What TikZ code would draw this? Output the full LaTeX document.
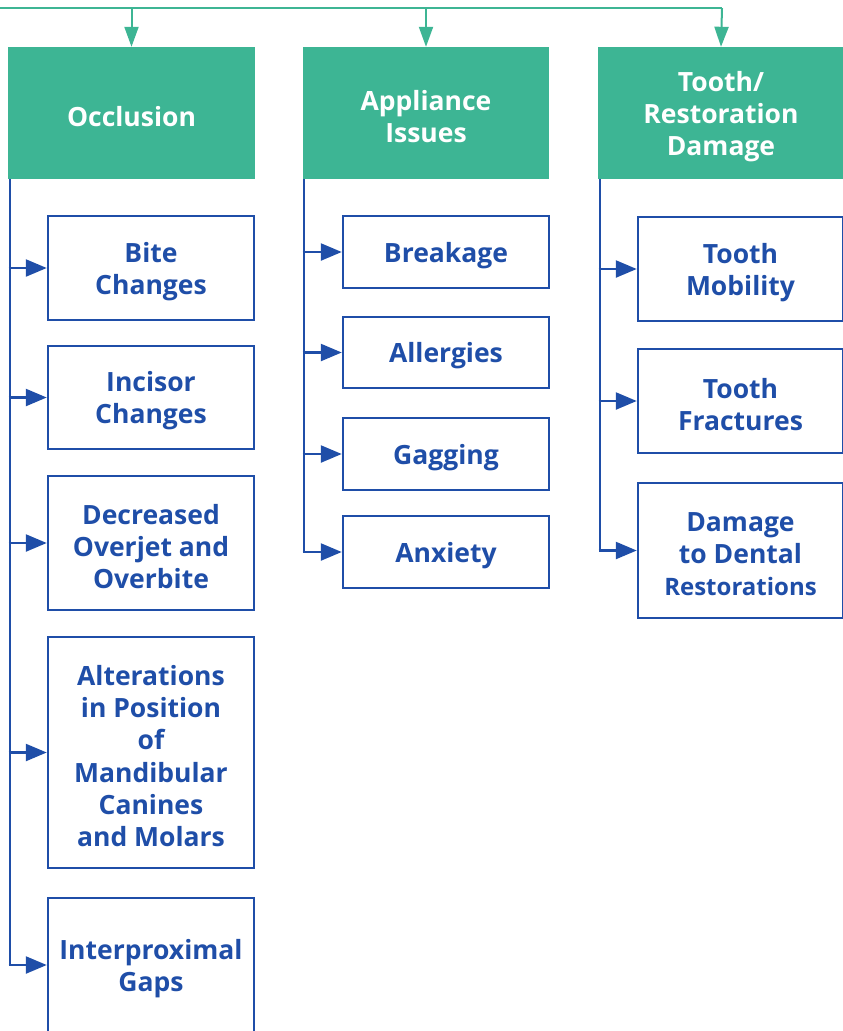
\documentclass[tikz,border=0pt]{standalone}
\usepackage{fontspec}
\setmainfont{Open Sans}[UprightFont=* Bold]
\usetikzlibrary{arrows.meta}
\definecolor{teal1}{HTML}{3DB594}
\definecolor{blue1}{HTML}{1F4EA8}
\tikzset{
  hdr/.style={fill=teal1,inner sep=0pt},
  hdrtext/.style={text=white,inner sep=0pt,align=center,font=\fontsize{26.5}{32}\selectfont},
  item/.style={draw=blue1,line width=2.5pt,fill=white,inner sep=0pt},
  itemtext/.style={text=blue1,inner sep=0pt,align=center,font=\fontsize{26.5}{32.2}\selectfont},
  tarr/.style={draw=teal1,line width=2pt,-{Triangle[length=20pt,width=14pt]}},
  barr/.style={draw=blue1,line width=2.5pt,-{Triangle[length=21pt,width=17pt]}}
}
% #1 name, #2 width, #3 height, #4 position, #5 text
\newcommand\hdrbox[5]{%
  \node[hdr,minimum width=#2,minimum height=#3] (#1) at #4 {};
  \node[hdrtext] (#1t) at ([yshift=-4pt]#1.center) {#5};}
\newcommand\itembox[6][]{%
  \node[item,minimum width=#3,minimum height=#4] (#2) at #5 {};
  \node[itemtext,#1] (#2t) at ([yshift=-3.5pt]#2.center) {#6};}
\begin{document}
\begin{tikzpicture}[x=1pt,y=-1pt]
\useasboundingbox (0,0) rectangle (843,1031);
\begin{scope}
\clip (0,0) rectangle (843,1031);
% headers
\hdrbox{occ}{247pt}{132pt}{(131.5,113)}{Occlusion}
\hdrbox{app}{246pt}{132pt}{(426,113)}{Appliance\\Issues}
\hdrbox{too}{246pt}{132pt}{(721,113)}{Tooth/\\Restoration\\Damage}
% top line
\coordinate (tl) at (0,8);
\coordinate (tr) at (722,8);
\draw[draw=teal1,line width=2pt] (tl) -- (tr);
\draw[tarr] (tl -| occ.north) -- (occ.north);
\draw[tarr] (tl -| app.north) -- (app.north);
\draw[tarr] (tr) -- (too.north);
% occlusion items
\itembox{bite}{206pt}{104pt}{(151,268)}{Bite\\Changes}
\itembox{inc}{206pt}{103pt}{(151,397.5)}{Incisor\\Changes}
\itembox{dec}{206pt}{134pt}{(151,543)}{Decreased\\Overjet and\\Overbite}
\itembox{alt}{206pt}{231pt}{(151,752.5)}{Alterations\\in Position\\of\\Mandibular\\Canines\\and Molars}
\itembox{gap}{206pt}{134pt}{(151,965)}{Interproximal\\Gaps}
% appliance items
\itembox{brk}{206pt}{72pt}{(446,252)}{Breakage}
\itembox{all}{206pt}{71pt}{(446,352.5)}{Allergies}
\itembox{gag}{206pt}{72pt}{(446,454)}{Gagging}
\itembox{anx}{206pt}{72pt}{(446,552)}{Anxiety}
% tooth items
\itembox{mob}{205pt}{104pt}{(740.5,269)}{Tooth\\Mobility}
\itembox{fra}{205pt}{104pt}{(740.5,401)}{Tooth\\Fractures}
\itembox{dam}{205pt}{135pt}{(740.5,550.5)}{Damage\\to Dental\\\fontsize{24}{32}\selectfont Restorations}
% connectors
\coordinate (o0) at ([xshift=2pt]occ.south west);
\coordinate (a0) at ([xshift=1pt]app.south west);
\coordinate (t0) at ([xshift=2pt]too.south west);
\draw[draw=blue1,line width=2.5pt] (o0) -- ([yshift=-1.25pt]o0 |- gap.west);
\draw[draw=blue1,line width=2.5pt] (a0) -- ([yshift=-1.25pt]a0 |- anx.west);
\draw[draw=blue1,line width=2.5pt] (t0) -- ([yshift=-1.25pt]t0 |- dam.west);
\foreach \n in {bite,inc,dec,alt,gap}{\draw[barr] ([xshift=-1.25pt]o0 |- \n.west) -- (\n.west);}
\foreach \n in {brk,all,gag,anx}{\draw[barr] ([xshift=-1.25pt]a0 |- \n.west) -- (\n.west);}
\foreach \n in {mob,fra,dam}{\draw[barr] ([xshift=-1.25pt]t0 |- \n.west) -- (\n.west);}
\end{scope}
\end{tikzpicture}
\end{document}
